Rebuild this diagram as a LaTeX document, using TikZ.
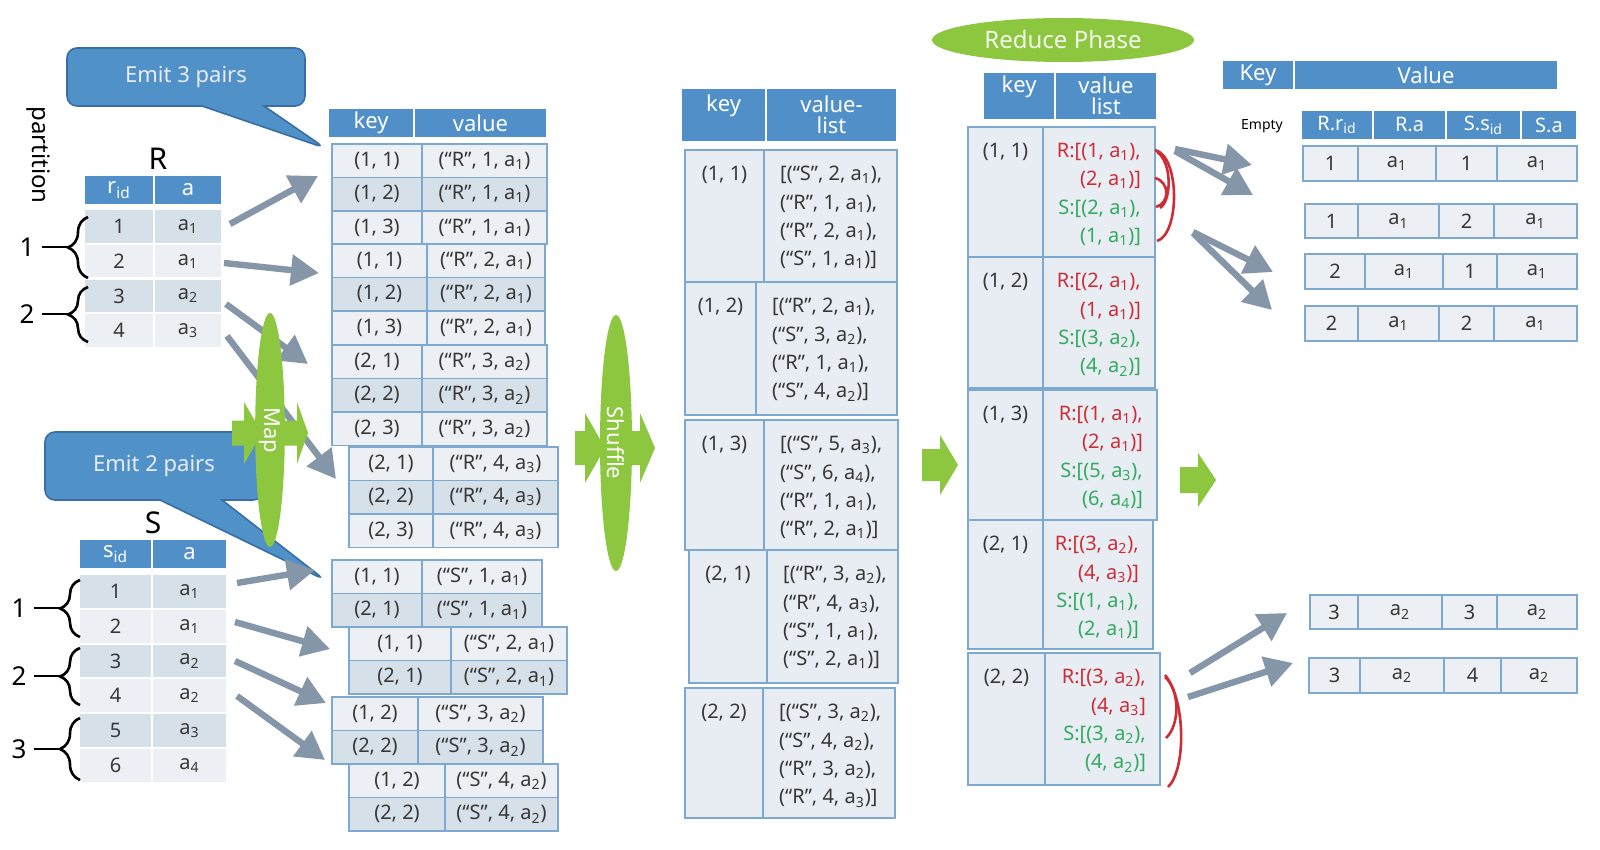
\documentclass[tikz,border=0pt]{standalone}
\usepackage{fontspec}
\setmainfont{Noto Sans}
\usepackage{xcolor}
\definecolor{hdrblue}{RGB}{80,143,200}
\definecolor{cellline}{RGB}{125,168,208}
\definecolor{celllight}{RGB}{236,240,244}
\definecolor{celldark}{RGB}{214,224,233}
\definecolor{listfill}{RGB}{231,237,242}
\definecolor{calloutblue}{RGB}{80,145,200}
\definecolor{calloutline}{RGB}{55,110,165}
\definecolor{phasegreen}{RGB}{141,198,63}
\definecolor{arrowgray}{RGB}{132,150,168}
\definecolor{textgray}{RGB}{55,55,55}
\definecolor{mydarkred}{RGB}{205,45,55}
\definecolor{darkgreen}{RGB}{50,170,95}
\usetikzlibrary{arrows.meta}
\usetikzlibrary{shapes.geometric}
\usetikzlibrary{shapes.callouts}
\usetikzlibrary{decorations.pathreplacing}
\newcommand{\ai}[1]{a\textsubscript{#1}}
\newcommand{\redt}[1]{\textcolor{mydarkred}{#1}}
\newcommand{\grnt}[1]{\textcolor{darkgreen}{#1}}
\tikzset{
    every node/.style={text=textgray, font=\fontsize{10}{12}\selectfont},
    hdr/.style={draw=white, line width=0.8pt, fill=hdrblue, inner sep=0, text=white, font=\fontsize{11}{10.5}\selectfont\bfseries, align=center},
    cellbox/.style={draw=cellline, line width=0.9pt, inner sep=0},
    row1/.style={cellbox, fill=celllight},
    row2/.style={cellbox, fill=celldark},
    row3/.style={cellbox, fill=celllight},
    incell/.style={draw=white, line width=1pt, inner sep=0},
    listcell/.style={cellbox, fill=listfill},
    val north west/.style={align=left, xshift=5pt},
    val north east/.style={align=right, xshift=-4pt},
    callout/.style={rectangle callout, fill=calloutblue, draw=calloutline, line width=0.8pt, rounded corners=5pt, text=white!92!blue, font=\fontsize{11}{13}\selectfont, callout pointer width=31pt},
    phase/.style={ellipse, fill=phasegreen, inner sep=0, text=white, font=\fontsize{11}{11}\selectfont},
    flow/.style={-{Triangle[length=14pt, width=15pt]}, line width=3.2pt, arrowgray},
    redmark/.style={mydarkred, line width=1.3pt},
    partbrace/.style={decorate, decoration={brace, amplitude=10pt}, line width=1.3pt, black},
    partlabel/.style={text=black, font=\fontsize{13}{13}\selectfont}
}
% a cell given by two corners (in px)
\newcommand{\boxnode}[7]{%
  \pgfmathsetmacro\bxcx{(#3+#5)/2}
  \pgfmathsetmacro\bxcy{(#4+#6)/2}
  \pgfmathsetmacro\bxw{abs(#5-#3)/2}
  \pgfmathsetmacro\bxh{abs(#6-#4)/2}
  \node[#1, minimum width=\bxw pt, minimum height=\bxh pt] (#2) at (\bxcx,\bxcy) {#7};
}
% one block of map output pairs
\newcommand{\kvgroup}[6]{%
  \foreach \keytxt/\valtxt [count=\i] in {#6} {
    \pgfmathsetmacro\ya{#5+(\i-1)*33.5}
    \pgfmathsetmacro\yb{#5+\i*33.5}
    \boxnode{row\i}{#1-\i-key}{#2}{\ya}{#3}{\yb}{\keytxt}
    \boxnode{row\i}{#1-\i-val}{#3}{\ya}{#4}{\yb}{\valtxt}
  }
}
% one key with its value list
\newcommand{\listgroup}[9]{%
  \boxnode{listcell}{#1-key}{#2}{#5}{#3}{#6}{}
  \boxnode{listcell}{#1-val}{#3}{#5}{#4}{#6}{}
  \node[anchor=north] at ([yshift=-5pt]#1-key.north) {#7};
  \node[anchor=#9, val #9, yshift=-5pt, font=\fontsize{10}{14.2}\selectfont] at (#1-val.#9) {#8};
}
% a row of cells
\newcommand{\cellrow}[5]{%
  \foreach \xa/\xb/\txt [count=\j] in {#5} {
    \boxnode{#1}{#2-\j}{\xa}{#3}{\xb}{#4}{\txt}
  }
}
\newcommand{\greenarrow}[6]{%
  \fill[phasegreen] (#1,#4-#5) -- (#2,#4-#5) -- (#2,#4-#6) -- (#3,#4) -- (#2,#4+#6) -- (#2,#4+#5) -- (#1,#4+#5) -- cycle;}

\begin{document}
\begin{tikzpicture}[x=0.5pt, y=-0.5pt]
\useasboundingbox (0,0) rectangle (1600,850);
\fill[white] (0,0) rectangle (1600,850);

% callouts
\node[callout, minimum width=119pt, minimum height=29pt, callout absolute pointer={(325,148)}] (emit3) at (186,77) {Emit 3 pairs};
\node[callout, minimum width=109pt, minimum height=34pt, callout absolute pointer={(325,580)}] (emit2) at (154,466) {Emit 2 pairs};

% gray arrows
\foreach \xa/\ya/\xb/\yb [count=\i] in {230/224/318/176, 224/263/319/273, 226/304/308/364, 227/336/336/479,
    237/583/315/570, 235/622/330/649, 235/661/326/703, 237/696/325/760,
    1175/149/1252/165, 1175/151/1253/195, 1193/232/1273/272, 1193/233/1272/310,
    1190/673/1287/613, 1188/697/1293/663} {
  \coordinate (from\i) at (\xa,\ya);
  \coordinate (to\i) at (\xb,\yb);
  \draw[flow] (from\i) -- (to\i);
}

% green block arrows
\greenarrow{232}{244}{262}{433}{12.5}{31}
\greenarrow{276}{297}{308}{433}{12.5}{31}
\greenarrow{575}{585}{605}{448}{17}{35}
\greenarrow{628}{640}{655}{448}{17}{35}
\greenarrow{922}{940}{958}{465}{16}{30}
\greenarrow{1180}{1198}{1216}{480}{13}{27}

% phases
\node[phase, rotate=-90, minimum width=117pt, minimum height=12pt] (map) at (270,430) {Map};
\node[phase, rotate=-90, minimum width=128pt, minimum height=16pt] (shuffle) at (616,443) {Shuffle};
\node[phase, minimum width=131pt, minimum height=22pt, font=\fontsize{12}{12}\selectfont, text=white!90!phasegreen] (reduce) at (1063,40) {Reduce Phase};

% input relations
\node[rotate=-90, text=black, font=\fontsize{12}{12}\selectfont] (partition) at (38,155) {partition};
\node[text=black, font=\fontsize{15}{15}\selectfont] (rname) at (158,159) {R};
\node[text=black, font=\fontsize{15}{15}\selectfont] (sname) at (153,523) {S};
\cellrow{hdr}{rhead}{175}{205}{84/154/r\textsubscript{id}, 154/222/a}
\cellrow{hdr}{shead}{539}{569}{79/152/s\textsubscript{id}, 152/227/a}
\foreach \id/\av [count=\i] in {1/\ai1, 2/\ai1, 3/\ai2, 4/\ai3} {
  \pgfmathsetmacro\ya{209+(\i-1)*34.75}
  \pgfmathsetmacro\yb{209+\i*34.75}
  \pgfmathtruncatemacro\shade{mod(\i,2)==1 ? 100 : 0}
  \boxnode{incell, fill=celldark!\shade!celllight}{r\i-id}{84}{\ya}{154}{\yb}{\id}
  \boxnode{incell, fill=celldark!\shade!celllight}{r\i-a}{154}{\ya}{222}{\yb}{\av}
}
\foreach \id/\av [count=\i] in {1/\ai1, 2/\ai1, 3/\ai2, 4/\ai2, 5/\ai3, 6/\ai4} {
  \pgfmathsetmacro\ya{574+(\i-1)*34.8}
  \pgfmathsetmacro\yb{574+\i*34.8}
  \pgfmathtruncatemacro\shade{mod(\i,2)==1 ? 100 : 0}
  \boxnode{incell, fill=celldark!\shade!celllight}{s\i-id}{79}{\ya}{152}{\yb}{\id}
  \boxnode{incell, fill=celldark!\shade!celllight}{s\i-a}{152}{\ya}{227}{\yb}{\av}
}

% partitions
\draw[partbrace] (88,278) -- (88,217);
\draw[partbrace] (88,342) -- (88,287);
\draw[partbrace] (80,637) -- (80,580);
\draw[partbrace] (80,705) -- (80,648);
\draw[partbrace] (80,780) -- (80,718);
\foreach \nm/\num/\x/\y/\tip in {rp1/1/27/247/68, rp2/2/27/314/68, sp1/1/19/608/60, sp2/2/19/676/60, sp3/3/19/749/60} {
  \node[partlabel] (\nm) at (\x,\y) {\num};
  \coordinate (\nm-tip) at (\tip,\y);
  \draw[line width=1.3pt, black] (\nm.east) -- (\nm-tip);
}

% map output
\cellrow{hdr}{mhead}{108}{138}{328/414/key, 414/547/value}
\kvgroup{mr1}{332}{422}{547}{144}{{(1, 1)}/{(“R”, 1, \ai1)}, {(1, 2)}/{(“R”, 1, \ai1)}, {(1, 3)}/{(“R”, 1, \ai1)}}
\kvgroup{mr2}{332}{427}{545}{244}{{(1, 1)}/{(“R”, 2, \ai1)}, {(1, 2)}/{(“R”, 2, \ai1)}, {(1, 3)}/{(“R”, 2, \ai1)}}
\kvgroup{mr3}{332}{422}{547}{345}{{(2, 1)}/{(“R”, 3, \ai2)}, {(2, 2)}/{(“R”, 3, \ai2)}, {(2, 3)}/{(“R”, 3, \ai2)}}
\kvgroup{mr4}{349}{433}{558}{447}{{(2, 1)}/{(“R”, 4, \ai3)}, {(2, 2)}/{(“R”, 4, \ai3)}, {(2, 3)}/{(“R”, 4, \ai3)}}
\kvgroup{ms1}{332}{422}{542}{560}{{(1, 1)}/{(“S”, 1, \ai1)}, {(2, 1)}/{(“S”, 1, \ai1)}}
\kvgroup{ms2}{349}{451}{567}{627}{{(1, 1)}/{(“S”, 2, \ai1)}, {(2, 1)}/{(“S”, 2, \ai1)}}
\kvgroup{ms3}{332}{418}{543}{697}{{(1, 2)}/{(“S”, 3, \ai2)}, {(2, 2)}/{(“S”, 3, \ai2)}}
\kvgroup{ms4}{349}{445}{558}{764}{{(1, 2)}/{(“S”, 4, \ai2)}, {(2, 2)}/{(“S”, 4, \ai2)}}

% shuffle output
\cellrow{hdr}{shhead}{88}{142}{681/766/{key\\\phantom{list}}, 766/897/{value-\\list}}
\listgroup{sh1}{685}{764}{897}{150}{282}{(1, 1)}{[(“S”, 2, \ai1),\\(“R”, 1, \ai1),\\(“R”, 2, \ai1),\\(“S”, 1, \ai1)]}{north west}
\listgroup{sh2}{685}{756}{897}{282}{415}{(1, 2)}{[(“R”, 2, \ai1),\\(“S”, 3, \ai2),\\(“R”, 1, \ai1),\\(“S”, 4, \ai2)]}{north west}
\listgroup{sh3}{685}{764}{898}{420}{550}{(1, 3)}{[(“S”, 5, \ai3),\\(“S”, 6, \ai4),\\(“R”, 1, \ai1),\\(“R”, 2, \ai1)]}{north west}
\listgroup{sh4}{689}{767}{898}{550}{683}{(2, 1)}{[(“R”, 3, \ai2),\\(“R”, 4, \ai3),\\(“S”, 1, \ai1),\\(“S”, 2, \ai1)]}{north west}
\listgroup{sh5}{685}{763}{895}{688}{818}{(2, 2)}{[(“S”, 3, \ai2),\\(“S”, 4, \ai2),\\(“R”, 3, \ai2),\\(“R”, 4, \ai3)]}{north west}

% reduce input
\cellrow{hdr}{rdhead}{72}{120}{983/1055/{key\\\phantom{list}}, 1055/1157/{value\\list}}
\listgroup{rd1}{968}{1043}{1155}{127}{257}{(1, 1)}{\redt{R:[(1, \ai1),}\\\redt{(2, \ai1)]}\\\grnt{S:[(2, \ai1),}\\\grnt{(1, \ai1)]}}{north east}
\listgroup{rd2}{968}{1043}{1155}{257}{388}{(1, 2)}{\redt{R:[(2, \ai1),}\\\redt{(1, \ai1)]}\\\grnt{S:[(3, \ai2),}\\\grnt{(4, \ai2)]}}{north east}
\listgroup{rd3}{968}{1043}{1157}{390}{520}{(1, 3)}{\redt{R:[(1, \ai1),}\\\redt{(2, \ai1)]}\\\grnt{S:[(5, \ai3),}\\\grnt{(6, \ai4)]}}{north east}
\listgroup{rd4}{968}{1043}{1153}{520}{649}{(2, 1)}{\redt{R:[(3, \ai2),}\\\redt{(4, \ai3)]}\\\grnt{S:[(1, \ai1),}\\\grnt{(2, \ai1)]}}{north east}
\listgroup{rd5}{968}{1045}{1160}{653}{785}{(2, 2)}{\redt{R:[(3, \ai2),}\\\redt{(4, \ai3]}\\\grnt{S:[(3, \ai2),}\\\grnt{(4, \ai2)]}}{north east}

% hand marks
\draw[redmark] (1155,150) .. controls (1180,156) and (1180,234) .. (1157,241);
\draw[redmark] (1157,152) .. controls (1172,162) and (1172,200) .. (1160,208);
\draw[redmark] (1155,178) .. controls (1170,182) and (1170,203) .. (1156,207);
\draw[redmark] (1165,675) .. controls (1186,700) and (1186,770) .. (1168,787);
\draw[redmark] (1165,677) .. controls (1180,690) and (1180,725) .. (1166,738);

% join results
\cellrow{hdr}{reshead}{60}{90}{1222/1294/Key, 1294/1558/Value}
\node[text=black, font=\fontsize{7}{7}\selectfont\bfseries] (empty) at (1262,126) {Empty};
\cellrow{hdr, font=\fontsize{10}{10}\selectfont\bfseries}{ressub}{110}{140}{1301/1373/R.r\textsubscript{id}, 1373/1446/R.a, 1446/1521/S.s\textsubscript{id}, 1521/1577/S.a}
\cellrow{row1}{res1}{146}{181}{1303/1358/1, 1358/1436/\ai1, 1436/1497/1, 1497/1577/\ai1}
\cellrow{row1}{res2}{204}{238}{1305/1358/1, 1358/1439/\ai1, 1439/1494/2, 1494/1577/\ai1}
\cellrow{row1}{res3}{254}{289}{1305/1365/2, 1365/1443/\ai1, 1443/1497/1, 1497/1577/\ai1}
\cellrow{row1}{res4}{306}{341}{1305/1358/2, 1358/1439/\ai1, 1439/1494/2, 1494/1577/\ai1}
\cellrow{row1}{res5}{595}{629}{1310/1358/3, 1358/1442/\ai2, 1442/1497/3, 1497/1577/\ai2}
\cellrow{row1}{res6}{658}{693}{1309/1360/3, 1360/1444/\ai2, 1444/1501/4, 1501/1577/\ai2}
\end{tikzpicture}
\end{document}
